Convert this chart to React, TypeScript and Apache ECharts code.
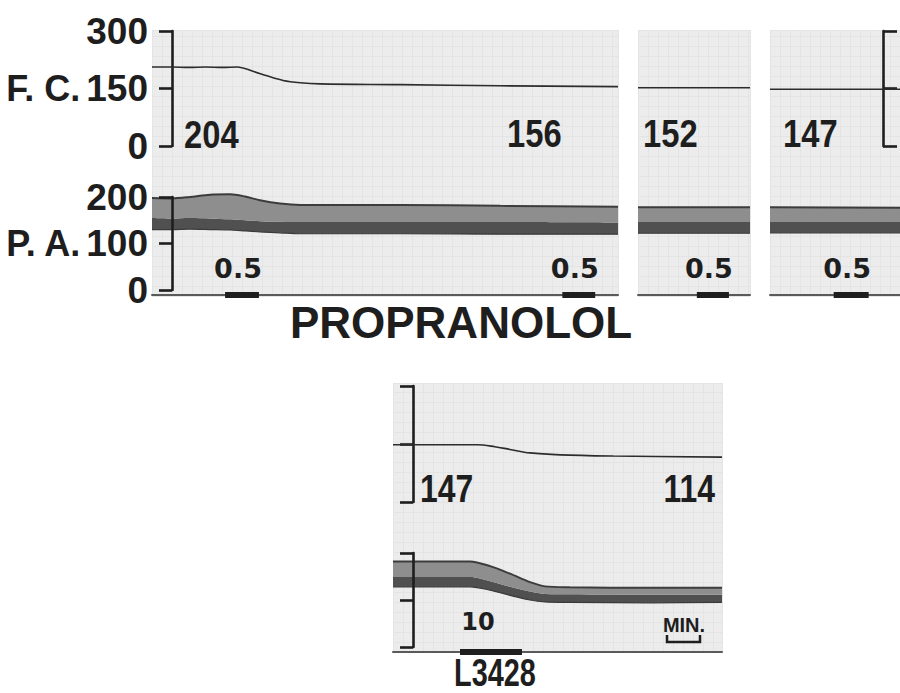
import React, { useEffect, useRef } from "react";
import * as echarts from "echarts";

// ---------- DATA (time in minutes) ----------
// Top panels (PROPRANOLOL), heart rate F.C. (beats/min)
const fcT1 = [0, 0.6, 1.1, 1.6, 2.1, 2.54, 3.01, 3.43, 3.91, 4.42, 5.01, 7.4, 10.39, 13.9];
const fcV1 = [206, 206, 205, 206, 205, 206, 195, 183, 171, 165, 162, 160, 157, 155];
const fcT2 = [0, 3.35];
const fcV2 = [152, 152];
const fcT3 = [0, 3.9];
const fcV3 = [148, 148];

// Top panels, arterial pressure P.A. (mmHg): systolic, band edge, diastolic
const paT1 = [0, 0.6, 1.13, 1.73, 2.33, 2.78, 3.22, 3.82, 4.42, 7.4, 10.39, 13.9];
const paSys1 = [198, 197, 200, 205, 206, 201, 193, 186, 183, 183, 181, 179];
const paMid1 = [155, 154, 155, 154, 152, 150, 148, 147, 146, 146, 146, 145];
const paDia1 = [130, 130, 131, 130, 129, 127, 125, 123, 121, 121, 120, 120];
const paT2 = [0, 3.35];
const paSys2 = [178, 178];
const paMid2 = [146, 146];
const paDia2 = [122, 122];
const paT3 = [0, 3.9];
const paSys3 = [178, 177];
const paMid3 = [146, 146];
const paDia3 = [123, 123];

// Bottom panel (L3428)
const fcTb = [0, 2.51, 3.04, 3.49, 4.09, 4.99, 6.57, 9.82];
const fcVb = [148, 148, 143, 136, 127, 122, 119, 116];
const paTb = [0, 1.1, 2.3, 2.9, 3.49, 4.09, 4.54, 5.28, 7.67, 9.82];
const paSysb = [182, 182, 182, 172, 156, 138, 129, 127, 126, 126];
const paMidb = [149, 149, 149, 140, 128, 118, 113, 112, 111, 111];
const paDiab = [128, 128, 128, 121, 110, 100, 96, 95, 94, 95];

// Injections: panel, start, end, dose
const evPanel = [0, 0, 1, 2];
const evStart = [2.18, 12.24, 1.76, 1.91];
const evEnd = [3.19, 13.22, 2.72, 2.96];
const evDose = ["0.5", "0.5", "0.5", "0.5"];
const evbStart = 2.0;
const evbEnd = 3.85;
const evbDose = "10";

// Heart-rate readouts written on the record
const readTop = ["204", "156", "152", "147"];
const readBottom = ["147", "114"];

const fcTicks = { min: 0, max: 300, interval: 150 };
const paTicks = { min: 0, max: 200, interval: 100 };

// ---------- STYLE / LAYOUT ----------
const SANS = '"Liberation Sans", Arial, Helvetica, sans-serif';
const WIDE = '"DejaVu Sans", "Liberation Sans", sans-serif';
const INK = "#1e1e1e";
const PAPER = "#ececec";
const RULE = "#e4e4e4";

const TOP_PANELS = [
  { left: 152, width: 466, dur: 13.9 },
  { left: 638, width: 112, dur: 3.35 },
  { left: 770, width: 130, dur: 3.9 },
];
const BOTTOM = { left: 393, width: 329, dur: 9.82 };

// rows are [value, time]; encode maps column 1 to x and column 0 to y
const rows = (t: number[], v: number[]) => t.map((x, i) => [v[i], x]);
const diff = (a: number[], b: number[]) => a.map((v, i) => v - b[i]);

function buildOption() {
  const grid: any[] = [];
  const xAxis: any[] = [];
  const yAxis: any[] = [];
  const series: any[] = [];
  const add = (g: any, x: any, y: any) => {
    grid.push({ outerBoundsMode: "none", containLabel: false, ...g });
    const i = grid.length - 1;
    xAxis.push({ ...x, gridIndex: i });
    yAxis.push({ ...y, gridIndex: i });
    return i;
  };
  const hidden = { show: false };
  const axisLine = { show: true, lineStyle: { color: INK, width: 2.6 } };
  const axisTick = { show: true, length: 13, lineStyle: { color: INK, width: 2.6 } };
  const labelStyle = {
    fontFamily: SANS,
    fontWeight: "bold",
    fontSize: 37,
    color: INK,
    margin: 24,
    padding: [0, 0, 10, 0],
  };
  const nameStyle = { fontFamily: SANS, fontWeight: "bold", fontSize: 36, color: INK, padding: [0, 0, 10, 0] };

  const paper = (left: number, top: number, width: number, height: number) => {
    const ruled = {
      type: "value",
      min: 0,
      interval: 10,
      axisLine: hidden,
      axisTick: hidden,
      axisLabel: hidden,
      splitLine: { show: true, lineStyle: { color: RULE, width: 1 } },
    };
    add(
      { left, top, width, height, show: true, backgroundColor: PAPER, borderWidth: 0 },
      { ...ruled, max: width },
      { ...ruled, max: height }
    );
  };

  const fcGrid = (left: number, top: number, width: number, height: number, dur: number, yCfg: any) =>
    add({ left, top, width, height }, { type: "value", min: 0, max: dur, show: false }, {
      type: "value",
      ...fcTicks,
      splitLine: hidden,
      ...yCfg,
    });
  const paGrid = (left: number, top: number, width: number, height: number, dur: number, yCfg: any) =>
    add({ left, top, width, height }, { type: "value", min: 0, max: dur, show: false }, {
      type: "value",
      ...paTicks,
      splitLine: hidden,
      z: 3,
      ...yCfg,
    });
  const evGrid = (left: number, top: number, width: number, dur: number) =>
    add(
      { left, top, width, height: 10 },
      {
        type: "value",
        min: 0,
        max: dur,
        axisLine: { show: true, onZero: true, lineStyle: { color: "#5a5a5a", width: 2 } },
        axisTick: hidden,
        axisLabel: hidden,
        splitLine: hidden,
      },
      { type: "value", min: -1, max: 1, show: false }
    );

  const fcLine = (i: number, t: number[], v: number[]) =>
    series.push({
      type: "line",
      xAxisIndex: i,
      yAxisIndex: i,
      data: rows(t, v),
      encode: { x: 1, y: 0 },
      symbol: "none",
      smooth: 0.35,
      lineStyle: { color: "#2c2c2c", width: 1.6 },
      z: 3,
    });
  const paBand = (i: number, t: number[], sys: number[], mid: number[], dia: number[]) => {
    const stack = "pa" + i;
    const common = {
      type: "line",
      xAxisIndex: i,
      yAxisIndex: i,
      stack,
      encode: { x: 1, y: 0 },
      symbol: "none",
      smooth: 0.3,
      clip: false,
      z: 2,
    };
    series.push({ ...common, data: rows(t, dia), lineStyle: { color: "#3a3a3a", width: 1.2 } });
    series.push({
      ...common,
      data: rows(t, diff(mid, dia)),
      lineStyle: { width: 0 },
      areaStyle: { color: "#505050", opacity: 1 },
    });
    series.push({
      ...common,
      data: rows(t, diff(sys, mid)),
      lineStyle: { color: "#3c3c3c", width: 2 },
      areaStyle: { color: "#8e8e8e", opacity: 1 },
    });
  };
  const events = (i: number, starts: number[], ends: number[], doses: string[], dx: number, dist: number, fs: number) => {
    starts.forEach((s, k) => {
      series.push({
        type: "line",
        xAxisIndex: i,
        yAxisIndex: i,
        data: [
          [s, 0],
          [ends[k], 0],
        ],
        symbol: "none",
        lineStyle: { color: INK, width: 6, cap: "butt" },
        z: 4,
      });
      series.push({
        type: "scatter",
        xAxisIndex: i,
        yAxisIndex: i,
        symbolSize: 1,
        itemStyle: { color: "rgba(0,0,0,0)" },
        data: [{ value: [(s + ends[k]) / 2, 0], name: doses[k] }],
        label: {
          show: true,
          position: "top",
          distance: dist,
          offset: [dx, 0],
          formatter: "{b}",
          fontFamily: WIDE,
          fontWeight: "bold",
          fontSize: fs,
          color: INK,
          textBorderWidth: 0,
          opacity: 1,
        },
        z: 4,
      });
    });
  };

  const fcT = [fcT1, fcT2, fcT3];
  const fcV = [fcV1, fcV2, fcV3];
  const paT = [paT1, paT2, paT3];
  const paS = [paSys1, paSys2, paSys3];
  const paM = [paMid1, paMid2, paMid3];
  const paD = [paDia1, paDia2, paDia3];

  TOP_PANELS.forEach((p, k) => {
    paper(p.left, 30, p.width, 266);
    let fcY: any = { show: false };
    let paY: any = { show: false };
    if (k === 0) {
      fcY = {
        show: true,
        position: "left",
        offset: -20,
        axisLine,
        axisTick,
        axisLabel: labelStyle,
        name: "F. C.",
        nameLocation: "middle",
        nameRotate: 0,
        nameGap: 89,
        nameTextStyle: nameStyle,
      };
      paY = {
        show: true,
        position: "left",
        offset: -20,
        axisLine,
        axisTick,
        axisLabel: labelStyle,
        name: "P. A.",
        nameLocation: "middle",
        nameRotate: 0,
        nameGap: 84,
        nameTextStyle: nameStyle,
      };
    }
    if (k === 2) {
      // "[" bracket near the right edge of the last strip
      fcY = {
        show: true,
        position: "left",
        offset: -(p.width - 17),
        axisLine,
        axisTick: { ...axisTick, length: 14, inside: true },
        axisLabel: { show: false },
      };
    }
    const fi = fcGrid(p.left, 31, p.width, 115, p.dur, fcY);
    fcLine(fi, fcT[k], fcV[k]);
    const pi = paGrid(p.left, 197, p.width, 93, p.dur, paY);
    paBand(pi, paT[k], paS[k], paM[k], paD[k]);
    const ei = evGrid(p.left, 290, p.width, p.dur);
    const idx = evPanel.map((q, j) => (q === k ? j : -1)).filter((j) => j >= 0);
    events(
      ei,
      idx.map((j) => evStart[j]),
      idx.map((j) => evEnd[j]),
      idx.map((j) => evDose[j]),
      -4,
      13,
      27
    );
  });

  // bottom panel
  const B = BOTTOM;
  paper(B.left, 383, B.width, 269);
  const bY = { show: true, position: "left", offset: -20, axisLine, axisTick, axisLabel: { show: false } };
  const bfi = fcGrid(B.left, 386, B.width, 116, B.dur, bY);
  fcLine(bfi, fcTb, fcVb);
  const bpi = paGrid(B.left, 553, B.width, 94, B.dur, bY);
  paBand(bpi, paTb, paSysb, paMidb, paDiab);
  const bei = evGrid(B.left, 647, B.width, B.dur);
  events(bei, [evbStart], [evbEnd], [evbDose], -13, 18, 24);

  const condensed = (text: string, x: number, y: number, size: number, align = "left", sx = 0.84) => ({
    type: "text",
    x,
    y,
    z: 10,
    scaleX: sx,
    style: {
      text,
      fill: INK,
      fontFamily: SANS,
      fontWeight: "bold",
      fontSize: size,
      lineHeight: size,
      align,
      verticalAlign: "middle",
    },
  });

  const graphic: any[] = [
    condensed(readTop[0], 184, 134, 39),
    condensed(readTop[1], 507, 133, 39),
    condensed(readTop[2], 643, 133, 39),
    condensed(readTop[3], 783, 133, 39),
    condensed(readBottom[0], 420, 488, 38),
    condensed(readBottom[1], 715, 488, 38, "right"),
    condensed("L3428", 495, 672, 38, "center", 0.76),
    {
      type: "text",
      x: 461,
      y: 322,
      z: 10,
      style: {
        text: "PROPRANOLOL",
        fill: INK,
        fontFamily: SANS,
        fontWeight: "bold",
        fontSize: 44,
        align: "center",
        verticalAlign: "middle",
      },
    },
    {
      type: "text",
      x: 684,
      y: 625,
      z: 10,
      style: {
        text: "MIN.",
        fill: INK,
        fontFamily: SANS,
        fontWeight: "bold",
        fontSize: 20,
        align: "center",
        verticalAlign: "middle",
      },
    },
    {
      type: "polyline",
      z: 10,
      shape: {
        points: [
          [667, 635],
          [667, 642],
          [700, 642],
          [700, 635],
        ],
      },
      style: { stroke: INK, lineWidth: 2.5, fill: "none" },
    },
  ];

  return {
    animation: false,
    backgroundColor: "#ffffff",
    grid,
    xAxis,
    yAxis,
    series,
    graphic,
  };
}

export default function App() {
  const ref = useRef<HTMLDivElement>(null);
  useEffect(() => {
    if (!ref.current) return;
    const chart = echarts.init(ref.current, undefined, { renderer: "svg" });
    chart.setOption(buildOption() as any);
    return () => chart.dispose();
  }, []);
  return (
    <div
      ref={ref}
      style={{ position: "fixed", left: 0, top: 0, width: 900, height: 693, background: "#fff" }}
    />
  );
}
